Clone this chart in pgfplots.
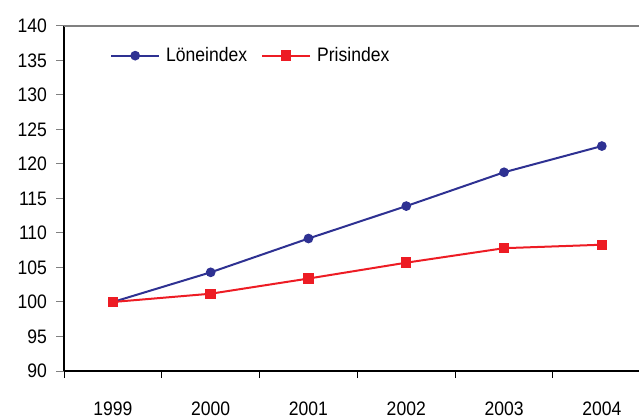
\documentclass[border=0pt]{standalone}
\usepackage{fontspec}
\setmainfont[FakeStretch=0.9]{Liberation Sans}
\usepackage{pgfplots}
\pgfplotsset{compat=1.18}
\definecolor{loneblue}{HTML}{2E3192}
\definecolor{prisred}{HTML}{ED1C24}
\begin{document}
\begin{tikzpicture}
\useasboundingbox (0,0) rectangle (639bp,419bp);
\begin{axis}[
    at={(64bp,48bp)}, anchor=south west,
    scale only axis,
    width=575bp, height=345bp,
    xmin=-0.5, xmax=5.38,
    ymin=90, ymax=140,
    ytick={90,95,...,140},
    xtick={0,1,2,3,4,5},
    xticklabels={1999,2000,2001,2002,2003,2004},
    minor xtick={-0.5,0.5,1.5,2.5,3.5,4.5},
    axis lines=left,
    axis line style={-},
    x axis line style={black, line width=2bp},
    y axis line style={black, line width=1.4bp},
    tick align=outside,
    major tick length=8bp,
    minor tick length=7bp,
    major x tick style={draw=none},
    minor x tick style={black, line width=1bp},
    major y tick style={gray, line width=1bp},
    ticklabel style={font=\fontsize{19.5bp}{22bp}\selectfont},
    /pgf/number format/assume math mode=true,
    xticklabel style={yshift=-19bp},
    yticklabel style={xshift=-5.5bp},
    clip=false,
    legend columns=-1,
    legend style={draw=none, fill=none, at={(axis description cs:0.08,0.914)}, anchor=west,
        font=\fontsize{19.5bp}{22bp}\selectfont, inner sep=0pt,
        /tikz/every odd column/.append style={column sep=4bp},
        /tikz/every even column/.append style={column sep=12bp}},
    legend image code/.code={\draw[mark repeat=2,mark phase=2,#1] plot coordinates {(0bp,0bp) (24bp,0bp) (48bp,0bp)};},
    ]
\draw[gray, line width=1.2bp] (rel axis cs:0,1) -- (rel axis cs:1,1);
\addplot[loneblue, line width=2bp, mark=*, mark size=3.8bp] coordinates {
    (0,100) (1,104.3) (2,109.2) (3,113.9) (4,118.8) (5,122.6)};
\addplot[prisred, line width=2bp, mark=square*, mark size=4.2bp] coordinates {
    (0,100) (1,101.2) (2,103.4) (3,105.7) (4,107.8) (5,108.3)};
\legend{Löneindex,Prisindex}
\end{axis}
\end{tikzpicture}
\end{document}
